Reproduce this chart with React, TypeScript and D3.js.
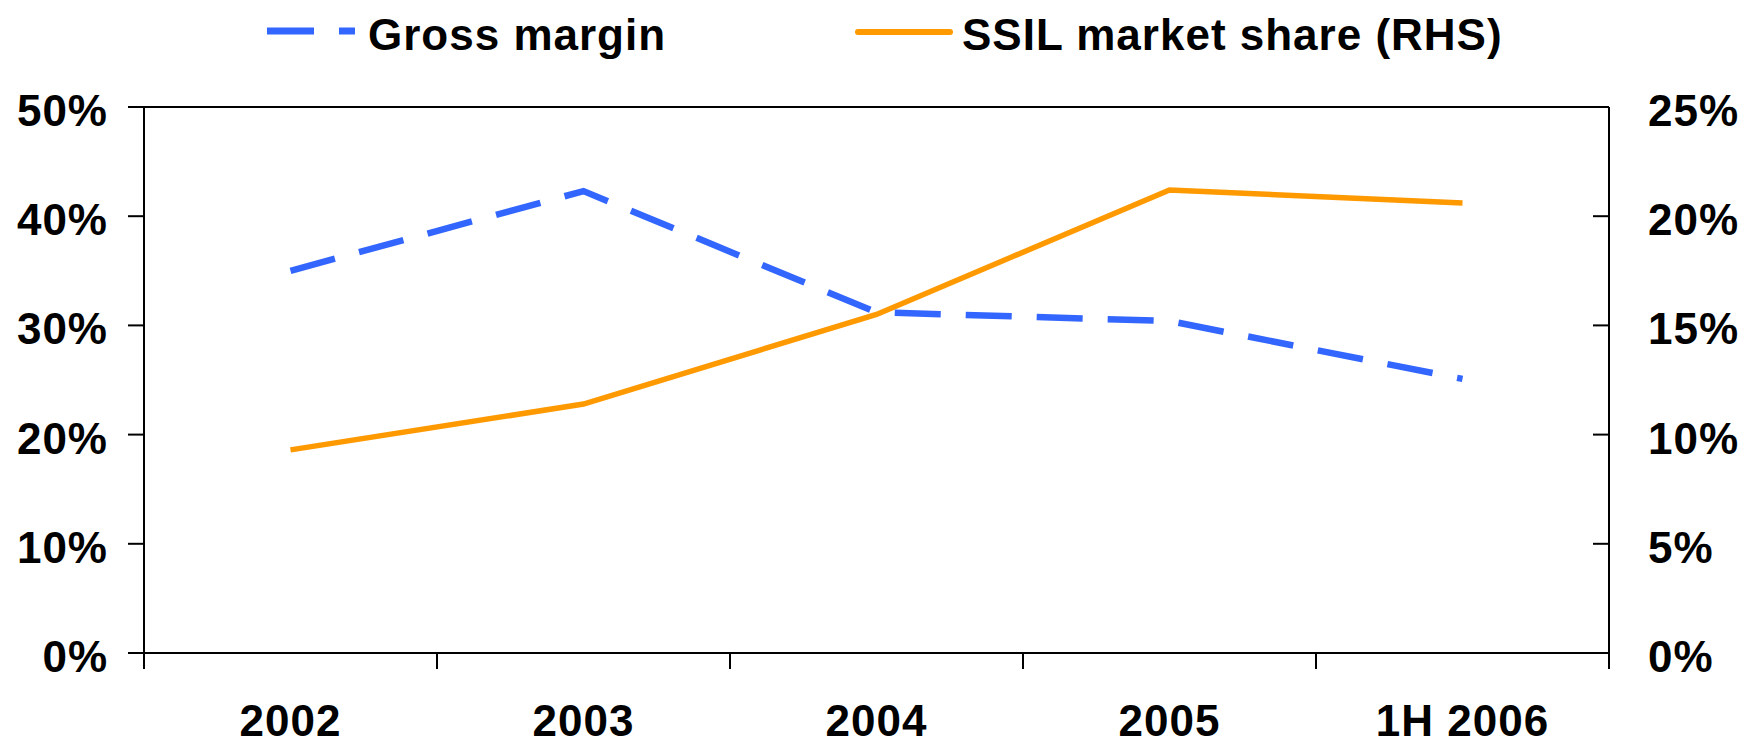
import React from "react";
import * as d3 from "d3";

// chart values
const categories = ["2002", "2003", "2004", "2005", "1H 2006"];
const grossMargin = [0.35, 0.423, 0.312, 0.304, 0.251];
const marketShare = [0.093, 0.114, 0.155, 0.212, 0.206];
const leftTicks = [0, 0.1, 0.2, 0.3, 0.4, 0.5];
const rightTicks = [0, 0.05, 0.1, 0.15, 0.2, 0.25];
const seriesNames = ["Gross margin", "SSIL market share (RHS)"];

const W = 1745;
const H = 745;
const left = 144;
const right = 1609;
const top = 107;
const bottom = 653;
const tick = 16;

const BLUE = "#3366ff";
const ORANGE = "#ff9900";
const font = "'Liberation Sans', Arial, sans-serif";
const txt = { fontFamily: font, fontWeight: 700, fontSize: 44, letterSpacing: 1, fill: "#000" };

export default function App() {
  const x = d3.scaleBand<string>().domain(categories).range([left, right]).padding(0);
  const yL = d3.scaleLinear().domain([0, 0.5]).range([bottom, top]);
  const yR = d3.scaleLinear().domain([0, 0.25]).range([bottom, top]);
  const cx = (i: number) => (x(categories[i]) as number) + x.bandwidth() / 2;

  const gmLine = d3.line<number>().x((_, i) => cx(i)).y((d) => yL(d))(grossMargin) || "";
  const msLine = d3.line<number>().x((_, i) => cx(i)).y((d) => yR(d))(marketShare) || "";
  const pct = d3.format(".0%");
  const xEdges = categories.map((c) => x(c) as number).concat([right]);

  return (
    <svg width={W} height={H} style={{ position: "absolute", left: 0, top: 0, background: "#fff" }}>
      {/* legend */}
      <g>
        <line x1={267} x2={355} y1={31} y2={31} stroke={BLUE} strokeWidth={7} strokeDasharray="47 25" />
        <text x={368} y={50} style={txt as any}>{seriesNames[0]}</text>
        <line x1={858} x2={950} y1={32} y2={32} stroke={ORANGE} strokeWidth={6} strokeLinecap="round" />
        <text x={962} y={50} style={txt as any}>{seriesNames[1]}</text>
      </g>

      {/* frame */}
      <g stroke="#000" strokeWidth={2} fill="none">
        <line x1={left - tick} x2={right} y1={top} y2={top} />
        <line x1={left} x2={right} y1={bottom} y2={bottom} />
        <line x1={left} x2={left} y1={top} y2={bottom + tick} />
        <line x1={right} x2={right} y1={top} y2={bottom + tick} />
        {leftTicks.map((t) => (
          <line key={"l" + t} x1={left - tick} x2={left} y1={yL(t)} y2={yL(t)} />
        ))}
        {rightTicks.slice(1, -1).map((t) => (
          <line key={"r" + t} x1={right - tick} x2={right} y1={yR(t)} y2={yR(t)} />
        ))}
        {xEdges.map((e, i) => (
          <line key={"x" + i} x1={e} x2={e} y1={bottom} y2={bottom + tick} />
        ))}
      </g>

      {/* tick labels */}
      {leftTicks.map((t) => (
        <text key={"lt" + t} x={108} y={yL(t) + 19} textAnchor="end" style={txt as any}>{pct(t)}</text>
      ))}
      {rightTicks.map((t) => (
        <text key={"rt" + t} x={1648} y={yR(t) + 19} style={txt as any}>{pct(t)}</text>
      ))}
      {categories.map((c, i) => (
        <text key={c} x={cx(i)} y={736} textAnchor="middle" style={txt as any}>{c}</text>
      ))}

      {/* series */}
      <path d={msLine} fill="none" stroke={ORANGE} strokeWidth={5.5} />
      <path d={gmLine} fill="none" stroke={BLUE} strokeWidth={6.5} strokeDasharray="46 25" />
    </svg>
  );
}
